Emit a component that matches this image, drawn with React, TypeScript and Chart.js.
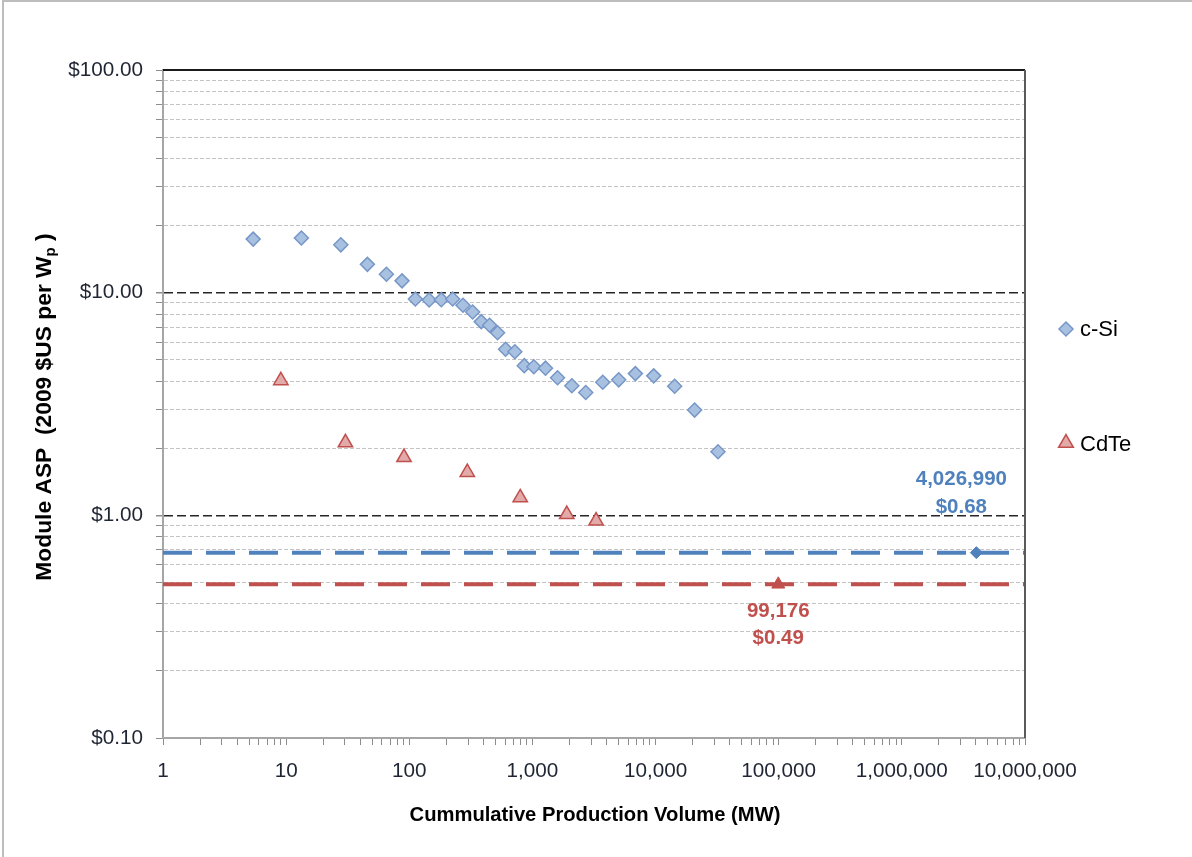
import React, { useEffect, useRef } from "react";
import { Chart, registerables } from "chart.js";

Chart.register(...registerables);

// ---- data ----
const seriesNames = ["c-Si", "CdTe"];
const csiVolume = [5.4, 13.3, 27.8, 45.7, 65.2, 87.3, 112, 145, 182, 225, 273, 327, 384, 449, 521, 605, 720, 858, 1026, 1277, 1599, 2089, 2710, 3724, 5020, 6855, 9660, 14290, 20750, 32130];
const csiPrice = [17.4, 17.6, 16.4, 13.4, 12.1, 11.3, 9.37, 9.27, 9.3, 9.37, 8.78, 8.19, 7.41, 7.14, 6.61, 5.57, 5.43, 4.7, 4.65, 4.58, 4.15, 3.82, 3.56, 3.96, 4.06, 4.33, 4.23, 3.8, 2.97, 1.93];
const cdteVolume = [9.06, 30.3, 90.6, 296, 796, 1901, 3290];
const cdtePrice = [4.03, 2.12, 1.82, 1.56, 1.2, 1.01, 0.944];
const targetVolume = [4026990, 99176];
const targetPrice = [0.68, 0.49];
const targetVolumeLabels = ["4,026,990", "99,176"];
const targetPriceLabels = ["$0.68", "$0.49"];
const xRange = [1, 10000000];
const yRange = [0.1, 100];
const xTitle = "Cummulative Production Volume (MW)";
const yTitleMain = "Module ASP  (2009 $US per W";
const yTitleSub = "p";
const yTitleEnd = " )";

const FONT = "'Liberation Sans', Arial, sans-serif";
const BLUE = "#4F81BD";
const RED = "#C0504D";

function logTicks(min: number, max: number) {
  const out: { value: number }[] = [];
  const e0 = Math.round(Math.log10(min));
  const e1 = Math.round(Math.log10(max));
  for (let e = e0; e < e1; e++) {
    for (let m = 1; m <= 9; m++) out.push({ value: Number((m * Math.pow(10, e)).toPrecision(6)) });
  }
  out.push({ value: max });
  return out;
}
const isPow10 = (v: number) => Math.abs(Math.log10(v) - Math.round(Math.log10(v))) < 1e-9;

const textPlugin = {
  id: "textPlugin",
  afterDraw(chart: any) {
    const ctx = chart.ctx;
    const xs = chart.scales.x;
    const ys = chart.scales.y;
    const area = chart.chartArea;
    ctx.save();
    // frame top/right
    ctx.strokeStyle = "#1a1a1a";
    ctx.lineWidth = 2;
    ctx.beginPath();
    ctx.moveTo(area.left, area.top);
    ctx.lineTo(area.right, area.top);
    ctx.stroke();
    ctx.strokeStyle = "#5a5a5a";
    ctx.beginPath();
    ctx.moveTo(area.right, area.top);
    ctx.lineTo(area.right, area.bottom);
    ctx.stroke();

    // target labels
    ctx.font = `bold 20.5px ${FONT}`;
    ctx.textAlign = "center";
    ctx.textBaseline = "middle";
    const bx = xs.getPixelForValue(targetVolume[0]);
    const by = ys.getPixelForValue(targetPrice[0]);
    ctx.fillStyle = BLUE;
    ctx.fillText(targetVolumeLabels[0], bx - 15, by - 73);
    ctx.fillText(targetPriceLabels[0], bx - 15, by - 45);
    const rx = xs.getPixelForValue(targetVolume[1]);
    const ry = ys.getPixelForValue(targetPrice[1]);
    ctx.fillStyle = RED;
    ctx.fillText(targetVolumeLabels[1], rx, ry + 27);
    ctx.fillText(targetPriceLabels[1], rx, ry + 54);

    // legend
    const lx = 1066;
    const ly1 = 329;
    const ly2 = 443;
    ctx.fillStyle = "#A9C1E1";
    ctx.strokeStyle = "#7797C7";
    ctx.lineWidth = 1.5;
    ctx.beginPath();
    ctx.moveTo(lx, ly1 - 7);
    ctx.lineTo(lx + 7, ly1);
    ctx.lineTo(lx, ly1 + 7);
    ctx.lineTo(lx - 7, ly1);
    ctx.closePath();
    ctx.fill();
    ctx.stroke();
    const tr = 8.5;
    ctx.fillStyle = "#E2AAA9";
    ctx.strokeStyle = RED;
    ctx.beginPath();
    ctx.moveTo(lx, ly2 - tr);
    ctx.lineTo(lx + tr * Math.sin(Math.PI * 2 / 3), ly2 + tr / 2);
    ctx.lineTo(lx - tr * Math.sin(Math.PI * 2 / 3), ly2 + tr / 2);
    ctx.closePath();
    ctx.fill();
    ctx.stroke();
    ctx.fillStyle = "#000";
    ctx.font = `22px ${FONT}`;
    ctx.textAlign = "left";
    ctx.fillText(seriesNames[0], 1080, ly1 + 1);
    ctx.fillText(seriesNames[1], 1080, ly2 + 2);

    // x title
    ctx.font = `bold 20.2px ${FONT}`;
    ctx.textAlign = "center";
    ctx.fillText(xTitle, 595, 815);

    // y title with subscript
    ctx.translate(45, 407);
    ctx.rotate(-Math.PI / 2);
    const fMain = `bold 22.8px ${FONT}`;
    const fSub = `bold 15px ${FONT}`;
    ctx.font = fMain;
    const w1 = ctx.measureText(yTitleMain).width;
    const w3 = ctx.measureText(yTitleEnd).width;
    ctx.font = fSub;
    const w2 = ctx.measureText(yTitleSub).width;
    const total = w1 + w2 + w3;
    let cx = -total / 2;
    ctx.textAlign = "left";
    ctx.font = fMain;
    ctx.fillText(yTitleMain, cx, 0);
    cx += w1;
    ctx.font = fSub;
    ctx.fillText(yTitleSub, cx, 6);
    cx += w2;
    ctx.font = fMain;
    ctx.fillText(yTitleEnd, cx, 0);
    ctx.restore();
  },
};

export default function App() {
  const ref = useRef<HTMLCanvasElement | null>(null);
  useEffect(() => {
    if (!ref.current) return;
    const chart = new Chart(ref.current, {
      type: "scatter",
      data: {
        datasets: [
          {
            label: seriesNames[0],
            data: csiVolume.map((x, i) => ({ x, y: csiPrice[i] })),
            pointStyle: "rectRot",
            pointRadius: 7,
            backgroundColor: "#A9C1E1",
            borderColor: "#7797C7",
            borderWidth: 1.5,
            order: 3,
          },
          {
            label: seriesNames[1],
            data: cdteVolume.map((x, i) => ({ x, y: cdtePrice[i] })),
            pointStyle: "triangle",
            pointRadius: 8.3,
            backgroundColor: "#E2AAA9",
            borderColor: RED,
            borderWidth: 1.5,
            order: 3,
          },
          {
            label: "c-Si target",
            data: [{ x: xRange[0], y: targetPrice[0] }, { x: xRange[1], y: targetPrice[0] }],
            showLine: true,
            borderColor: BLUE,
            borderWidth: 4,
            borderDash: [29, 14],
            pointRadius: 0,
            order: 2,
          },
          {
            label: "CdTe target",
            data: [{ x: xRange[0], y: targetPrice[1] }, { x: xRange[1], y: targetPrice[1] }],
            showLine: true,
            borderColor: RED,
            borderWidth: 4,
            borderDash: [29, 14],
            pointRadius: 0,
            order: 2,
          },
          {
            label: "c-Si point",
            data: [{ x: targetVolume[0], y: targetPrice[0] }],
            pointStyle: "rectRot",
            pointRadius: 6,
            backgroundColor: BLUE,
            borderColor: BLUE,
            order: 1,
          },
          {
            label: "CdTe point",
            data: [{ x: targetVolume[1], y: targetPrice[1] }],
            pointStyle: "triangle",
            pointRadius: 7.5,
            backgroundColor: RED,
            borderColor: RED,
            order: 1,
          },
        ],
      },
      options: {
        responsive: false,
        animation: false,
        devicePixelRatio: 1,
        layout: { padding: { left: 20, top: 70, right: 167, bottom: 69 } },
        plugins: { legend: { display: false }, tooltip: { enabled: false } },
        scales: {
          x: {
            type: "logarithmic",
            min: xRange[0],
            max: xRange[1],
            afterBuildTicks: (s: any) => {
              s.ticks = logTicks(xRange[0], xRange[1]);
            },
            afterFit: (s: any) => {
              s.height = 50;
            },
            ticks: {
              autoSkip: false,
              maxRotation: 0,
              padding: 14,
              color: "#1f2533",
              font: { family: FONT, size: 20.7 },
              callback: (v: any) => (isPow10(Number(v)) ? Number(v).toLocaleString("en-US") : ""),
            },
            grid: {
              drawOnChartArea: false,
              drawTicks: true,
              tickLength: 7,
              color: "#8c8c8c",
              tickColor: "#8c8c8c",
              lineWidth: 1,
            },
            border: { display: true, color: "#a6a6a6", width: 2 },
          },
          y: {
            type: "logarithmic",
            min: yRange[0],
            max: yRange[1],
            afterBuildTicks: (s: any) => {
              s.ticks = logTicks(yRange[0], yRange[1]);
            },
            afterFit: (s: any) => {
              s.width = 143;
            },
            ticks: {
              autoSkip: false,
              padding: 13,
              color: "#1f2533",
              font: { family: FONT, size: 20.7 },
              callback: (v: any) => (isPow10(Number(v)) ? "$" + Number(v).toFixed(2) : ""),
            },
            grid: {
              drawOnChartArea: true,
              drawTicks: true,
              tickLength: 7,
              tickColor: "#8c8c8c",
              color: (c: any) => {
                const v = c.tick ? c.tick.value : 0;
                if (v <= yRange[0] * 1.0001 || v >= yRange[1] * 0.9999) return "rgba(0,0,0,0)";
                if (v === 1 || v === 10) return "#262626";
                return "#c4c4c4";
              },
              lineWidth: (c: any) => {
                const v = c.tick ? c.tick.value : 0;
                return v === 1 || v === 10 ? 1.5 : 1;
              },
            },
            border: {
              display: true,
              color: "#a6a6a6",
              width: 2,
              dash: (c: any) => {
                if (!c.tick) return [];
                const v = c.tick.value;
                if (v === 1 || v === 10) return [9, 4];
                return [4, 2];
              },
            },
          },
        },
      },
      plugins: [textPlugin],
    } as any);
    return () => chart.destroy();
  }, []);
  return (
    <div style={{ position: "fixed", left: 0, top: 0, width: 1192, height: 857, background: "#fff", overflow: "hidden" }}>
      <div style={{ position: "absolute", left: 2, top: 0, width: 1200, height: 900, border: "2px solid #bdbdbd", boxSizing: "border-box" }} />
      <canvas ref={ref} width={1192} height={857} style={{ position: "absolute", left: 0, top: 0 }} />
    </div>
  );
}
